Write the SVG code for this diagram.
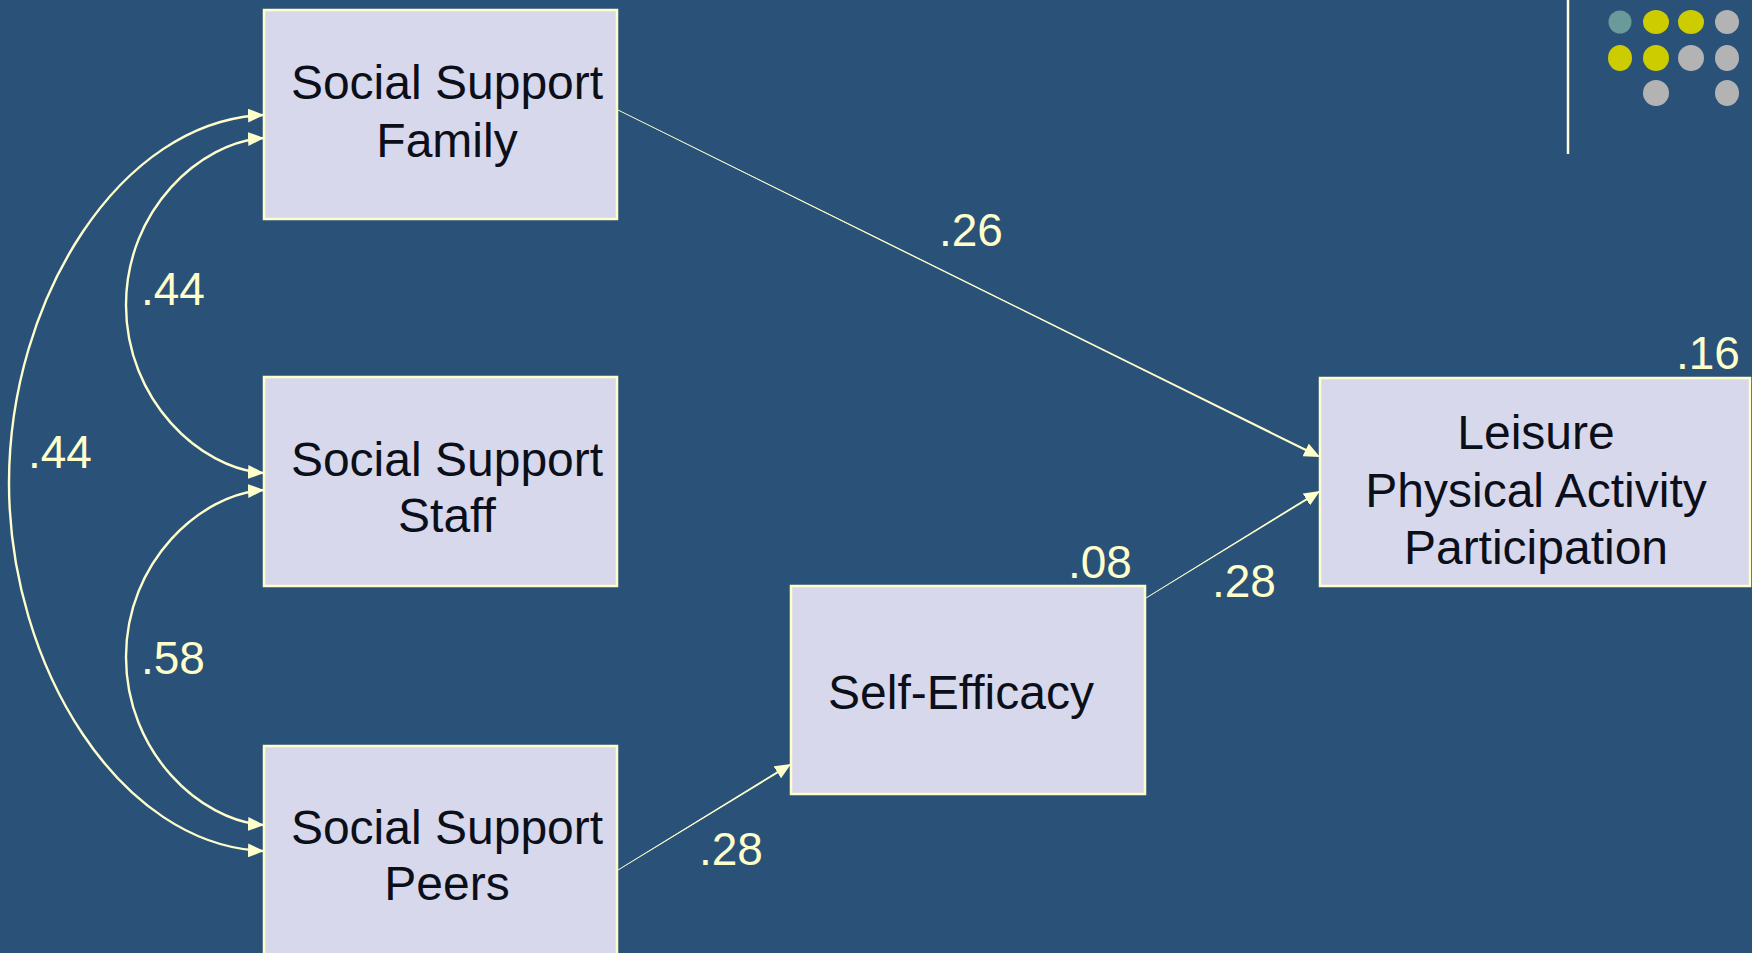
<svg xmlns="http://www.w3.org/2000/svg" width="1752" height="953" viewBox="0 0 1752 953">
  <style>
    .box { fill: #D8D8EC; stroke: #FFFFCC; stroke-width: 2.5; }
    .name { font-family: "Liberation Sans", Arial, sans-serif; font-size: 48px; fill: #0B0F1A; text-anchor: middle; }
    .coef { font-family: "Liberation Sans", Arial, sans-serif; font-size: 46px; fill: #FFFFCC; }
    .curve { fill: none; stroke: #FFFFCC; stroke-width: 2.4; }
    .thin { fill: none; stroke: #FFFFCC; stroke-width: 0.6; }
    .wedge { fill: #FFFFCC; stroke: none; }
  </style>
  <defs>
    <marker id="ah" markerUnits="userSpaceOnUse" markerWidth="17" markerHeight="14" refX="16" refY="7" orient="auto-start-reverse">
      <path d="M0,0 L16,7 L0,14 z" fill="#FFFFCC"/>
    </marker>
  </defs>

  <!-- background -->
  <rect x="0" y="0" width="1752" height="953" fill="#2A5279"/>

  <!-- corner ornament: rule and dot grid -->
  <g id="ornament">
    <line x1="1568" y1="0" x2="1568" y2="154" stroke="#FFFFE0" stroke-width="2.5"/>
    <circle cx="1620" cy="22" r="11.5" fill="#6A9A9A"/>
    <ellipse cx="1656" cy="22" rx="13" ry="12" fill="#CCCC00"/>
    <ellipse cx="1691" cy="22" rx="13" ry="12" fill="#CCCC00"/>
    <circle cx="1727" cy="22" r="12" fill="#B3B3B3"/>
    <ellipse cx="1620" cy="58" rx="12" ry="13" fill="#CCCC00"/>
    <ellipse cx="1656" cy="58" rx="13" ry="13" fill="#CCCC00"/>
    <ellipse cx="1691" cy="58" rx="13" ry="13" fill="#B3B3B3"/>
    <ellipse cx="1727" cy="58" rx="12" ry="13" fill="#B3B3B3"/>
    <ellipse cx="1656" cy="93" rx="13" ry="13" fill="#B3B3B3"/>
    <ellipse cx="1727" cy="93" rx="12" ry="13" fill="#B3B3B3"/>
  </g>

  <!-- nodes -->
  <g id="family">
    <rect class="box" x="264" y="10" width="353" height="209"/>
    <text class="name" x="447" y="99">Social Support</text>
    <text class="name" x="447" y="157">Family</text>
  </g>
  <g id="staff">
    <rect class="box" x="264" y="377" width="353" height="209"/>
    <text class="name" x="447" y="476">Social Support</text>
    <text class="name" x="447" y="532">Staff</text>
  </g>
  <g id="peers">
    <rect class="box" x="264" y="746" width="353" height="215"/>
    <text class="name" x="447" y="844">Social Support</text>
    <text class="name" x="447" y="900">Peers</text>
  </g>
  <g id="self-efficacy">
    <rect class="box" x="791" y="586" width="354" height="208"/>
    <text class="name" x="961" y="709">Self-Efficacy</text>
  </g>
  <g id="leisure">
    <rect class="box" x="1320" y="378" width="430" height="208"/>
    <text class="name" x="1536" y="449">Leisure</text>
    <text class="name" x="1536" y="507">Physical Activity</text>
    <text class="name" x="1536" y="564">Participation</text>
  </g>

  <!-- connectors -->
  <g id="connectors">
    <!-- correlations (double-headed) -->
    <path class="curve" d="M264 115 C120 120 9 300 9 483 C9 666 120 846 264 851" marker-start="url(#ah)" marker-end="url(#ah)"/>
    <path class="curve" d="M264 138 C200 142 126 210 126 305 C126 400 200 469 264 473" marker-start="url(#ah)" marker-end="url(#ah)"/>
    <path class="curve" d="M264 490 C200 494 126 562 126 657 C126 752 200 821 264 825" marker-start="url(#ah)" marker-end="url(#ah)"/>

    <!-- paths (tapered shafts) -->
    <path class="thin" d="M618 110 L1320 457" marker-end="url(#ah)"/>
    <path class="wedge" d="M617.87 110.27 L618.13 109.73 L1307.89 449.81 L1306.91 451.79 z"/>

    <path class="thin" d="M1146 598 L1320 491" marker-end="url(#ah)"/>
    <path class="wedge" d="M1146.16 598.26 L1145.84 597.74 L1307.6 497.45 L1308.6 499.15 z"/>

    <path class="thin" d="M618 870 L791 764" marker-end="url(#ah)"/>
    <path class="wedge" d="M618.16 870.26 L617.84 869.74 L778.54 770.46 L779.58 772.16 z"/>
  </g>

  <!-- coefficients -->
  <g id="coefficients">
    <text class="coef" x="141" y="305">.44</text>
    <text class="coef" x="28" y="468">.44</text>
    <text class="coef" x="141" y="674">.58</text>
    <text class="coef" x="939" y="246">.26</text>
    <text class="coef" x="1676" y="369">.16</text>
    <text class="coef" x="1068" y="578">.08</text>
    <text class="coef" x="1212" y="597">.28</text>
    <text class="coef" x="699" y="865">.28</text>
  </g>
</svg>
